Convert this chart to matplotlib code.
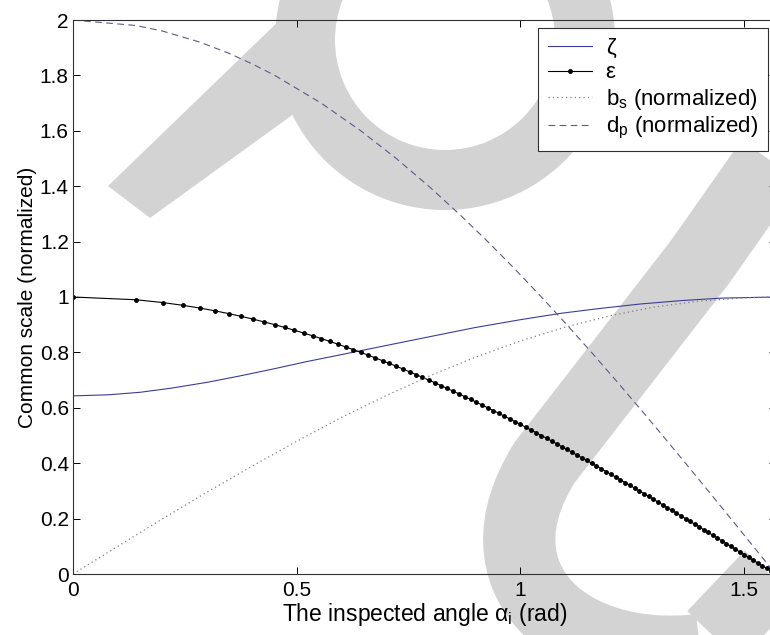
import matplotlib
matplotlib.use("Agg")
import matplotlib.pyplot as plt
from matplotlib.patches import Polygon, Wedge, PathPatch
from matplotlib.path import Path

plt.rcParams["font.family"] = ["Liberation Sans", "DejaVu Sans"]
plt.rcParams["mathtext.fontset"] = "custom"
plt.rcParams["mathtext.rm"] = "Liberation Sans"
plt.rcParams["mathtext.it"] = "Liberation Sans:italic"

# epsilon sampled in steps of 0.01, with the angle where each dot sits
eps_angle = [0.0000, 0.1415, 0.2003, 0.2456, 0.2838, 0.3176, 0.3482, 0.3764, 0.4027, 0.4275,
             0.4510, 0.4735, 0.4949, 0.5156, 0.5355, 0.5548, 0.5735, 0.5917, 0.6094, 0.6266,
             0.6435, 0.6600, 0.6761, 0.6920, 0.7075, 0.7227, 0.7377, 0.7525, 0.7670, 0.7813,
             0.7954, 0.8093, 0.8230, 0.8366, 0.8500, 0.8632, 0.8763, 0.8892, 0.9021, 0.9147,
             0.9273, 0.9397, 0.9521, 0.9643, 0.9764, 0.9884, 1.0004, 1.0122, 1.0239, 1.0356,
             1.0472, 1.0587, 1.0701, 1.0815, 1.0928, 1.1040, 1.1152, 1.1263, 1.1374, 1.1484,
             1.1593, 1.1702, 1.1810, 1.1918, 1.2025, 1.2132, 1.2239, 1.2345, 1.2451, 1.2556,
             1.2661, 1.2766, 1.2870, 1.2974, 1.3078, 1.3181, 1.3284, 1.3387, 1.3490, 1.3592,
             1.3694, 1.3796, 1.3898, 1.3999, 1.4101, 1.4202, 1.4303, 1.4404, 1.4505, 1.4606,
             1.4706, 1.4806, 1.4907, 1.5007, 1.5108, 1.5208, 1.5308, 1.5408, 1.5508, 1.5608,
             1.5708]
eps_val = [1.00, 0.99, 0.98, 0.97, 0.96, 0.95, 0.94, 0.93, 0.92, 0.91,
           0.90, 0.89, 0.88, 0.87, 0.86, 0.85, 0.84, 0.83, 0.82, 0.81,
           0.80, 0.79, 0.78, 0.77, 0.76, 0.75, 0.74, 0.73, 0.72, 0.71,
           0.70, 0.69, 0.68, 0.67, 0.66, 0.65, 0.64, 0.63, 0.62, 0.61,
           0.60, 0.59, 0.58, 0.57, 0.56, 0.55, 0.54, 0.53, 0.52, 0.51,
           0.50, 0.49, 0.48, 0.47, 0.46, 0.45, 0.44, 0.43, 0.42, 0.41,
           0.40, 0.39, 0.38, 0.37, 0.36, 0.35, 0.34, 0.33, 0.32, 0.31,
           0.30, 0.29, 0.28, 0.27, 0.26, 0.25, 0.24, 0.23, 0.22, 0.21,
           0.20, 0.19, 0.18, 0.17, 0.16, 0.15, 0.14, 0.13, 0.12, 0.11,
           0.10, 0.09, 0.08, 0.07, 0.06, 0.05, 0.04, 0.03, 0.02, 0.01,
           0.00]

zeta_angle = [0, 0.08, 0.15, 0.22, 0.30, 0.37, 0.45, 0.52, 0.60, 0.67, 0.78, 0.90,
              1.00, 1.09, 1.18, 1.27, 1.36, 1.45, 1.5708]
zeta_val = [0.643, 0.647, 0.656, 0.671, 0.692, 0.714, 0.741, 0.766, 0.792, 0.815, 0.851, 0.890,
            0.918, 0.941, 0.959, 0.975, 0.987, 0.996, 1.000]

bs_angle = [0, 0.1, 0.2, 0.3, 0.4, 0.5, 0.6, 0.7, 0.8, 0.9, 1.0, 1.1, 1.2, 1.3, 1.4, 1.5, 1.5708]
bs_val = [0, 0.100, 0.199, 0.296, 0.389, 0.479, 0.565, 0.644, 0.717, 0.783, 0.841, 0.891,
          0.932, 0.964, 0.985, 0.997, 1.000]

dp_angle = [0.0000, 0.1415, 0.2003, 0.2838, 0.3482, 0.4027, 0.4510, 0.5548, 0.6435, 0.7227,
            0.7954, 0.8632, 0.9273, 0.9884, 1.0472, 1.1040, 1.1593, 1.2132, 1.2661, 1.3181,
            1.3694, 1.4202, 1.4706, 1.5208, 1.5708]
dp_val = [2.00, 1.98, 1.96, 1.92, 1.88, 1.84, 1.80, 1.70, 1.60, 1.50,
          1.40, 1.30, 1.20, 1.10, 1.00, 0.90, 0.80, 0.70, 0.60, 0.50,
          0.40, 0.30, 0.20, 0.10, 0.00]

y_ticks = [0, 0.2, 0.4, 0.6, 0.8, 1, 1.2, 1.4, 1.6, 1.8, 2]
y_ticklabels = ["0", "0.2", "0.4", "0.6", "0.8", "1", "1.2", "1.4", "1.6", "1.8", "2"]
x_ticks = [0, 0.5, 1, 1.5]
x_ticklabels = ["0", "0.5", "1", "1.5"]

W, H = 770, 635
fig = plt.figure(figsize=(W / 100, H / 100), dpi=100)
fig.patch.set_facecolor("white")

# light grey watermark strokes behind the plot (pixel coordinates)
bg = fig.add_axes([0, 0, 1, 1], zorder=0)
bg.set_xlim(0, W)
bg.set_ylim(H, 0)
bg.axis("off")
wm = "#d3d3d3"
bg.add_patch(Wedge((445, 40), 170, 0, 360, width=60, color=wm, lw=0))
bg.add_patch(Polygon([(108, 186), (285, 15), (320, 95), (150, 218)], closed=True, color=wm, lw=0))
stroke = Path([(870, 20), (700, 262), (545, 462), (470, 580), (570, 665), (700, 650), (800, 545)],
              [Path.MOVETO, Path.LINETO, Path.LINETO, Path.CURVE4, Path.CURVE4, Path.CURVE4, Path.LINETO])
bg.add_patch(PathPatch(stroke, fill=False, edgecolor=wm, lw=52, capstyle="butt"))

ax = fig.add_axes([73 / W, (H - 574) / H, 702.6 / W, 554 / H], zorder=1)
ax.patch.set_alpha(0)

ax.plot(zeta_angle, zeta_val, color="#3c3c9c", lw=0.8, label="ζ")
ax.plot(eps_angle, eps_val, color="black", lw=0.8, marker=".", ms=5, label="ε")
ax.plot(bs_angle, bs_val, color="#808080", lw=0.9, linestyle=(0, (1, 2.5)),
        label="b$_\\mathregular{s}$ (normalized)")
ax.plot(dp_angle, dp_val, color="#5a5a8c", lw=0.8, linestyle=(0, (6, 4)),
        label="d$_\\mathregular{p}$ (normalized)")

fs = 15
ax.set_xlim(0, 1.5708)
ax.set_ylim(0, 2)
ax.set_xticks(x_ticks)
ax.set_xticklabels(x_ticklabels)
ax.set_yticks(y_ticks)
ax.set_yticklabels(y_ticklabels)
ax.tick_params(direction="in", length=5, width=0.7, top=True, right=True, labelsize=fs)
ax.tick_params(axis="x", pad=5)
ax.tick_params(axis="y", pad=3)
for s in ax.spines.values():
    s.set_linewidth(0.8)
    s.set_color("#303030")

ax.set_xlabel("The inspected angle α$_\\mathregular{i}$ (rad)", fontsize=16.5, labelpad=1)
ax.set_ylabel("Common scale (normalized)", fontsize=fs, labelpad=2)

leg = ax.legend(loc="upper right", bbox_to_anchor=(768 / W, 1 - 28 / H), bbox_transform=fig.transFigure,
                borderaxespad=0, fontsize=16, handlelength=2.0, labelspacing=0.15,
                fancybox=False, framealpha=1, edgecolor="#303030", borderpad=0.45, handletextpad=0.6)
leg.get_frame().set_linewidth(0.8)

fig.savefig("out.png", dpi=100)
